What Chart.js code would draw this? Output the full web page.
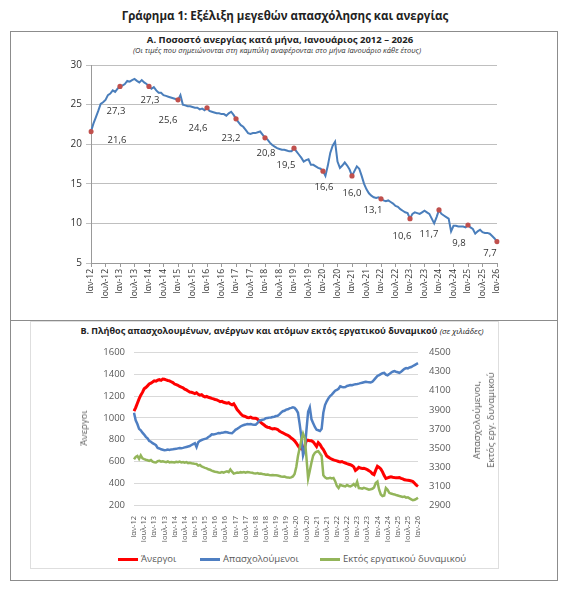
<!DOCTYPE html>
<html lang="el">
<head>
<meta charset="utf-8">
<title>Γράφημα 1</title>
<script src="https://cdn.jsdelivr.net/npm/chart.js@4.4.1/dist/chart.umd.min.js"></script>
<style>
  body { margin: 0; background: #fff; font-family: "Open Sans", "Noto Sans", sans-serif; color: #222; }
  #page { position: relative; width: 566px; height: 600px; overflow: hidden; }
  .abs { position: absolute; }
  .panel { position: absolute; border: 1px solid #8c8c8c; box-sizing: border-box; }
  .center { left: 0; width: 566px; text-align: center; white-space: nowrap; }
  #mainTitle { top: 8px; left: 2px; font-size: 11.5px; font-weight: bold; }
  #titleA { top: 33px; left: -3px; font-size: 9.5px; font-weight: bold; }
  #subA { top: 45px; left: -6px; font-size: 7.5px; font-style: italic; color: #333; }
  #titleB { top: 324px; left: -1px; font-size: 9px; font-weight: bold; }
  #titleB i { font-weight: normal; font-size: 8px; }
  .rot { position: absolute; transform: translate(-50%, -50%) rotate(-90deg); white-space: nowrap;
         font-size: 9.5px; color: #595959; text-align: center; line-height: 14px; }
  .leg { position: absolute; top: 552px; font-size: 9.5px; color: #595959; white-space: nowrap; }
  .leg span { display: inline-block; width: 20px; height: 3px; vertical-align: middle; margin-right: 3px; }
  canvas { position: absolute; }
</style>
</head>
<body>
<div id="page">
  <div id="mainTitle" class="abs center">Γράφημα 1: Εξέλιξη μεγεθών απασχόλησης και ανεργίας</div>
  <div class="panel" style="left:10px;top:31px;width:548px;height:290px;"></div>
  <div class="panel" style="left:10px;top:320px;width:548px;height:261px;"></div>
  <div class="panel" style="left:30px;top:321px;width:469px;height:248px;border-color:#dedede;"></div>

  <div id="titleA" class="abs center">Α. Ποσοστό ανεργίας κατά μήνα, Ιανουάριος 2012 – 2026</div>
  <div id="subA" class="abs center">(Οι τιμές που σημειώνονται στη καμπύλη αναφέρονται στο μήνα Ιανουάριο κάθε έτους)</div>
  <canvas id="rateChart" width="547" height="265" style="left:10px;top:55px;"></canvas>

  <div id="titleB" class="abs center">Β. Πλήθος απασχολουμένων, ανέργων και ατόμων εκτός εργατικού δυναμικού <i>(σε χιλιάδες)</i></div>
  <canvas id="levelsChart" width="547" height="215" style="left:10px;top:336px;"></canvas>
  <div class="rot" style="left:84px;top:428px;">Άνεργοι</div>
  <div class="rot" style="left:484px;top:420px;">Απασχολούμενοι,<br>Εκτός εργ. δυναμικού</div>

  <div class="leg" style="left:118px;"><span style="background:#ff0000"></span>Άνεργοι</div>
  <div class="leg" style="left:200px;"><span style="background:#4f7fc2"></span>Απασχολούμενοι</div>
  <div class="leg" style="left:320px;"><span style="background:#93b55a"></span>Εκτός εργατικού δυναμικού</div>
</div>

<script>
// Month categories: Ιαν-12 ... Ιαν-26
const monthNames = ['Ιαν', 'Φεβ', 'Μαρ', 'Απρ', 'Μαϊ', 'Ιουν', 'Ιουλ', 'Αυγ', 'Σεπ', 'Οκτ', 'Νοε', 'Δεκ'];
const months = [];
for (let y = 12; y <= 26; y++) {
    for (let m = 0; m < 12; m++) {
        if (y === 26 && m > 0) break;
        months.push(monthNames[m] + '-' + y);
    }
}

// A. Unemployment rate (%), monthly
const unemploymentRate = [
    21.6, 22.6, 23.4, 24.2, 25.1, 25.3, 25.6, 26.2, 26.4, 26.8, 26.6, 27.0, // 2012
    27.3, 27.4, 27.6, 28.0, 27.9, 28.1, 28.25, 28.0, 27.8, 28.1, 27.8, 27.6, // 2013
    27.3, 27.0, 27.2, 26.8, 26.5, 26.5, 26.2, 26.1, 26.0, 25.9, 25.8, 25.7, // 2014
    25.6, 26.2, 25.0, 24.9, 24.8, 24.8, 24.7, 24.6, 24.6, 24.4, 24.5, 24.3, // 2015
    24.6, 24.2, 24.1, 24.0, 23.9, 23.9, 23.8, 23.8, 23.6, 23.9, 24.1, 23.7, // 2016
    23.2, 22.8, 22.4, 22.2, 21.8, 21.4, 21.3, 21.4, 21.4, 21.5, 21.6, 21.2, // 2017
    20.8, 20.6, 20.2, 19.9, 19.7, 19.5, 19.4, 19.3, 19.3, 19.2, 19.1, 19.1, // 2018
    19.5, 19.1, 18.7, 18.3, 17.8, 18.0, 18.1, 17.4, 17.4, 17.2, 17.0, 16.9, // 2019
    16.6, 16.0, 17.3, 18.9, 19.8, 20.3, 17.8, 17.0, 17.3, 17.7, 17.3, 16.8, // 2020
    16.0, 16.6, 17.2, 16.9, 16.0, 15.0, 14.3, 13.8, 13.5, 13.3, 13.2, 13.3, // 2021
    13.1, 12.9, 12.8, 12.9, 12.7, 12.5, 12.2, 12.1, 11.8, 11.6, 11.4, 11.3, // 2022
    10.6, 11.2, 11.4, 11.3, 11.2, 11.4, 11.6, 11.4, 11.2, 10.6, 10.0, 10.8, // 2023
    11.7, 11.2, 11.0, 10.8, 10.6, 9.0, 9.7, 9.7, 9.6, 9.6, 9.6, 9.5,        // 2024
    9.8, 9.5, 9.3, 8.7, 9.0, 9.2, 8.9, 8.8, 8.8, 8.7, 8.4, 8.1,             // 2025
    7.7                                                                      // 2026
];

// B. Levels in thousands, monthly
const unemployed = [
    1062, 1095, 1136, 1175, 1209, 1235, 1268, 1280, 1295, 1312, 1320, 1330,
    1341, 1338, 1348, 1352, 1346, 1358, 1356, 1350, 1345, 1341, 1333, 1325,
    1312, 1306, 1300, 1290, 1283, 1278, 1265, 1258, 1248, 1239, 1236, 1230,
    1224, 1232, 1218, 1209, 1214, 1200, 1194, 1198, 1190, 1186, 1180, 1176,
    1170, 1166, 1158, 1150, 1153, 1144, 1140, 1136, 1141, 1128, 1121, 1130,
    1105, 1077, 1060, 1040, 1025, 1018, 1012, 1005, 1003, 1008, 1000, 998,
    997, 990, 975, 959, 946, 935, 922, 915, 912, 905, 900, 903,
    900, 894, 880, 871, 864, 855, 846, 841, 830, 815, 805, 790,
    770, 745, 724, 715, 709, 740, 797, 795, 790, 791, 780, 760,
    738, 774, 758, 730, 709, 680, 650, 640, 630, 621, 615, 610,
    606, 600, 596, 600, 591, 586, 580, 575, 570, 562, 550, 518,
    530, 547, 540, 535, 538, 532, 525, 515, 505, 488, 480, 520,
    556, 545, 532, 505, 470, 444, 450, 455, 459, 455, 452, 450,
    450, 452, 445, 440, 432, 429, 428, 425, 421, 415, 400, 382,
    371
];
const employed = [
    3869, 3790, 3751, 3700, 3684, 3660, 3640, 3616, 3600, 3573, 3565, 3549,
    3540, 3528, 3499, 3494, 3485, 3480, 3475, 3478, 3482, 3479, 3484, 3486,
    3489, 3490, 3495, 3499, 3496, 3500, 3505, 3510, 3515, 3520, 3530, 3540,
    3549, 3509, 3560, 3575, 3583, 3590, 3595, 3600, 3615, 3625, 3643, 3640,
    3645, 3650, 3657, 3655, 3660, 3662, 3667, 3665, 3660, 3657, 3655, 3670,
    3690, 3700, 3712, 3725, 3734, 3740, 3745, 3751, 3748, 3750, 3745, 3744,
    3744, 3760, 3784, 3790, 3795, 3800, 3811, 3815, 3818, 3820, 3825, 3828,
    3835, 3838, 3852, 3870, 3885, 3890, 3902, 3905, 3915, 3920, 3926, 3920,
    3900, 3869, 3750, 3616, 3420, 3480, 3684, 3880, 3926, 3800, 3760, 3720,
    3690, 3685, 3677, 3700, 3869, 3950, 3990, 4020, 4045, 4060, 4080, 4100,
    4110, 4121, 4148, 4140, 4138, 4140, 4150, 4155, 4161, 4158, 4165, 4168,
    4171, 4175, 4180, 4185, 4190, 4195, 4192, 4190, 4188, 4195, 4215, 4235,
    4255, 4265, 4275, 4285, 4289, 4270, 4262, 4275, 4290, 4300, 4306, 4300,
    4295, 4289, 4300, 4315, 4330, 4339, 4335, 4345, 4349, 4360, 4370, 4380,
    4390
];
const outsideLabourForce = [
    3381, 3405, 3415, 3385, 3421, 3390, 3381, 3375, 3370, 3364, 3372, 3355,
    3350, 3347, 3360, 3364, 3355, 3360, 3354, 3350, 3357, 3347, 3352, 3350,
    3347, 3354, 3350, 3356, 3348, 3352, 3345, 3350, 3340, 3343, 3338, 3335,
    3332, 3330, 3314, 3320, 3305, 3297, 3290, 3285, 3275, 3270, 3262, 3255,
    3250, 3246, 3242, 3240, 3245, 3240, 3248, 3253, 3245, 3273, 3250, 3230,
    3235, 3240, 3238, 3245, 3242, 3246, 3240, 3246, 3244, 3240, 3238, 3232,
    3230, 3235, 3228, 3230, 3225, 3222, 3219, 3220, 3215, 3213, 3215, 3212,
    3213, 3210, 3205, 3200, 3196, 3200, 3192, 3190, 3186, 3190, 3200, 3225,
    3300, 3415, 3500, 3583, 3650, 3600, 3400, 3179, 3260, 3347, 3420, 3448,
    3460, 3465, 3440, 3415, 3213, 3190, 3179, 3180, 3186, 3180, 3185, 3150,
    3100, 3078, 3112, 3105, 3100, 3095, 3110, 3100, 3095, 3105, 3120, 3100,
    3145, 3078, 3075, 3071, 3080, 3075, 3068, 3061, 3065, 3070, 3085, 3130,
    3145, 3060, 3011, 2994, 3000, 3078, 3060, 3028, 3020, 3015, 3011, 3005,
    3000, 2994, 2990, 2985, 2988, 2977, 2980, 2970, 2960, 2950, 2955, 2965,
    2977
];

Chart.defaults.font.family = '"Open Sans", "Noto Sans", sans-serif';
Chart.defaults.animation = false;

// show a tick only on January and July
const halfYearTick = function (value, index) {
    return index % 6 === 0 ? this.getLabelForValue(value) : null;
};
// plain numbers, no thousands separator
const plainNumber = v => String(v);

// where each January value label sits relative to its point
const janLabelOffsets = [
    [26, 9], [-4, 25], [1, 14], [-10, 20], [-9, 21], [-5, 19], [1, 15], [-8, 17],
    [1, 16], [0, 17], [-8, 11], [-8, 18], [-10, 24], [-9, 18], [-7, 12]
];

const janValueLabels = {
    id: 'janValueLabels',
    afterDatasetsDraw(chart) {
        const meta = chart.getDatasetMeta(0);
        const ctx = chart.ctx;
        ctx.save();
        ctx.font = '9.5px "Open Sans", sans-serif';
        ctx.fillStyle = '#333';
        ctx.textAlign = 'center';
        ctx.textBaseline = 'middle';
        meta.data.forEach((pt, i) => {
            if (i % 12 !== 0) return;
            const off = janLabelOffsets[i / 12] || [-8, 17];
            ctx.fillText(unemploymentRate[i].toFixed(1).replace('.', ','), pt.x + off[0], pt.y + off[1]);
        });
        ctx.restore();
    }
};

/**
 * Chart A: unemployment rate by month
 */
new Chart(document.getElementById('rateChart'), {
    type: 'line',
    data: {
        labels: months,
        datasets: [{
            label: 'Ποσοστό ανεργίας',
            data: unemploymentRate,
            borderColor: '#4a7ebb',
            borderWidth: 2,
            tension: 0,
            pointRadius: ctx => ctx.dataIndex % 12 === 0 ? 2.6 : 0,
            pointHoverRadius: 0,
            pointBorderWidth: 0,
            pointBackgroundColor: '#c0504d'
        }]
    },
    options: {
        responsive: false,
        layout: { padding: { top: 8, right: 60, bottom: 0, left: 0 } },
        plugins: { legend: { display: false }, tooltip: { enabled: false } },
        scales: {
            y: {
                min: 5,
                max: 30,
                ticks: { stepSize: 5, color: '#333', font: { size: 10 }, padding: 4 },
                grid: { color: '#bfbfbf', tickLength: 5 },
                border: { color: '#999' },
                afterFit: s => { s.width = 81; }
            },
            x: {
                ticks: {
                    autoSkip: false, maxRotation: 90, minRotation: 90,
                    color: '#333', font: { size: 8.5 }, padding: 2,
                    callback: halfYearTick
                },
                grid: { drawOnChartArea: false, tickLength: 4, color: '#999' },
                border: { color: '#999' },
                afterFit: s => { s.height = 57; }
            }
        }
    },
    plugins: [janValueLabels]
});

/**
 * Chart B: employed, unemployed and outside labour force (thousands)
 */
new Chart(document.getElementById('levelsChart'), {
    type: 'line',
    data: {
        labels: months,
        datasets: [
            { label: 'Άνεργοι', data: unemployed, yAxisID: 'y', borderColor: '#ff0000', borderWidth: 3, order: 2 },
            { label: 'Απασχολούμενοι', data: employed, yAxisID: 'y1', borderColor: '#4f7fc2', order: 1 },
            { label: 'Εκτός εργατικού δυναμικού', data: outsideLabourForce, yAxisID: 'y1', borderColor: '#93b55a', order: 0 }
        ]
    },
    options: {
        responsive: false,
        layout: { padding: { top: 10, right: 0, bottom: 0, left: 0 } },
        elements: { line: { borderWidth: 2.5, tension: 0 }, point: { radius: 0, hoverRadius: 0 } },
        plugins: { legend: { display: false }, tooltip: { enabled: false } },
        scales: {
            y: {
                min: 200,
                max: 1600,
                ticks: { stepSize: 200, color: '#595959', font: { size: 9.5 }, padding: 9, callback: plainNumber },
                grid: { color: '#d9d9d9', drawTicks: false },
                border: { display: false },
                afterFit: s => { s.width = 124; }
            },
            y1: {
                position: 'right',
                min: 2900,
                max: 4500,
                ticks: { stepSize: 200, color: '#595959', font: { size: 9.5 }, padding: 11, callback: plainNumber },
                grid: { drawOnChartArea: false, drawTicks: false },
                border: { display: false },
                afterFit: s => { s.width = 139; }
            },
            x: {
                ticks: {
                    autoSkip: false, maxRotation: 90, minRotation: 90,
                    color: '#595959', font: { size: 7.5 }, padding: 3,
                    callback: halfYearTick
                },
                grid: { display: false },
                border: { display: false },
                afterFit: s => { s.height = 46; }
            }
        }
    }
});
</script>
</body>
</html>
